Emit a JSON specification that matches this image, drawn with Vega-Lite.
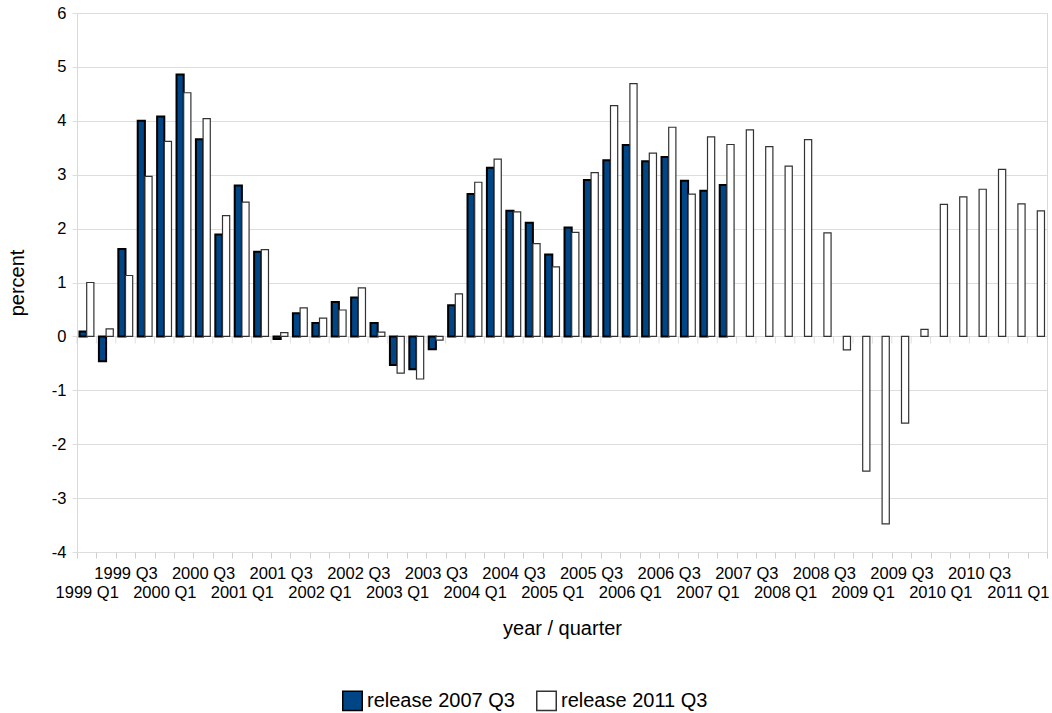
{
  "$schema": "https://vega.github.io/schema/vega-lite/v6.json",
  "autosize": "none",
  "width": 970,
  "height": 539,
  "padding": {"left": 77, "top": 13, "right": 5, "bottom": 161},
  "config": {
    "font": "Liberation Sans",
    "view": {"stroke": "#d9d9d9"},
    "axis": {"labelFont": "Liberation Sans", "titleFont": "Liberation Sans", "labelColor": "#000", "titleColor": "#000", "titleFontWeight": "normal", "gridColor": "#dddddd", "tickColor": "#d0d0d0", "domainColor": "#d9d9d9"}
  },
  "data": {"values": [
    {"q": "1999 Q1", "series": "release 2007 Q3", "value": 0.09},
    {"q": "1999 Q2", "series": "release 2007 Q3", "value": -0.46},
    {"q": "1999 Q3", "series": "release 2007 Q3", "value": 1.62},
    {"q": "1999 Q4", "series": "release 2007 Q3", "value": 4.00},
    {"q": "2000 Q1", "series": "release 2007 Q3", "value": 4.08},
    {"q": "2000 Q2", "series": "release 2007 Q3", "value": 4.86},
    {"q": "2000 Q3", "series": "release 2007 Q3", "value": 3.66},
    {"q": "2000 Q4", "series": "release 2007 Q3", "value": 1.89},
    {"q": "2001 Q1", "series": "release 2007 Q3", "value": 2.80},
    {"q": "2001 Q2", "series": "release 2007 Q3", "value": 1.57},
    {"q": "2001 Q3", "series": "release 2007 Q3", "value": -0.05},
    {"q": "2001 Q4", "series": "release 2007 Q3", "value": 0.43},
    {"q": "2002 Q1", "series": "release 2007 Q3", "value": 0.25},
    {"q": "2002 Q2", "series": "release 2007 Q3", "value": 0.64},
    {"q": "2002 Q3", "series": "release 2007 Q3", "value": 0.72},
    {"q": "2002 Q4", "series": "release 2007 Q3", "value": 0.25},
    {"q": "2003 Q1", "series": "release 2007 Q3", "value": -0.53},
    {"q": "2003 Q2", "series": "release 2007 Q3", "value": -0.61},
    {"q": "2003 Q3", "series": "release 2007 Q3", "value": -0.24},
    {"q": "2003 Q4", "series": "release 2007 Q3", "value": 0.58},
    {"q": "2004 Q1", "series": "release 2007 Q3", "value": 2.64},
    {"q": "2004 Q2", "series": "release 2007 Q3", "value": 3.13},
    {"q": "2004 Q3", "series": "release 2007 Q3", "value": 2.33},
    {"q": "2004 Q4", "series": "release 2007 Q3", "value": 2.11},
    {"q": "2005 Q1", "series": "release 2007 Q3", "value": 1.52},
    {"q": "2005 Q2", "series": "release 2007 Q3", "value": 2.02},
    {"q": "2005 Q3", "series": "release 2007 Q3", "value": 2.90},
    {"q": "2005 Q4", "series": "release 2007 Q3", "value": 3.27},
    {"q": "2006 Q1", "series": "release 2007 Q3", "value": 3.55},
    {"q": "2006 Q2", "series": "release 2007 Q3", "value": 3.25},
    {"q": "2006 Q3", "series": "release 2007 Q3", "value": 3.33},
    {"q": "2006 Q4", "series": "release 2007 Q3", "value": 2.89},
    {"q": "2007 Q1", "series": "release 2007 Q3", "value": 2.70},
    {"q": "2007 Q2", "series": "release 2007 Q3", "value": 2.81},
    {"q": "1999 Q1", "series": "release 2011 Q3", "value": 1.00},
    {"q": "1999 Q2", "series": "release 2011 Q3", "value": 0.14},
    {"q": "1999 Q3", "series": "release 2011 Q3", "value": 1.13},
    {"q": "1999 Q4", "series": "release 2011 Q3", "value": 2.97},
    {"q": "2000 Q1", "series": "release 2011 Q3", "value": 3.62},
    {"q": "2000 Q2", "series": "release 2011 Q3", "value": 4.52},
    {"q": "2000 Q3", "series": "release 2011 Q3", "value": 4.04},
    {"q": "2000 Q4", "series": "release 2011 Q3", "value": 2.24},
    {"q": "2001 Q1", "series": "release 2011 Q3", "value": 2.49},
    {"q": "2001 Q2", "series": "release 2011 Q3", "value": 1.61},
    {"q": "2001 Q3", "series": "release 2011 Q3", "value": 0.07},
    {"q": "2001 Q4", "series": "release 2011 Q3", "value": 0.53},
    {"q": "2002 Q1", "series": "release 2011 Q3", "value": 0.34},
    {"q": "2002 Q2", "series": "release 2011 Q3", "value": 0.49},
    {"q": "2002 Q3", "series": "release 2011 Q3", "value": 0.90},
    {"q": "2002 Q4", "series": "release 2011 Q3", "value": 0.08},
    {"q": "2003 Q1", "series": "release 2011 Q3", "value": -0.68},
    {"q": "2003 Q2", "series": "release 2011 Q3", "value": -0.79},
    {"q": "2003 Q3", "series": "release 2011 Q3", "value": -0.07},
    {"q": "2003 Q4", "series": "release 2011 Q3", "value": 0.79},
    {"q": "2004 Q1", "series": "release 2011 Q3", "value": 2.86},
    {"q": "2004 Q2", "series": "release 2011 Q3", "value": 3.29},
    {"q": "2004 Q3", "series": "release 2011 Q3", "value": 2.31},
    {"q": "2004 Q4", "series": "release 2011 Q3", "value": 1.72},
    {"q": "2005 Q1", "series": "release 2011 Q3", "value": 1.29},
    {"q": "2005 Q2", "series": "release 2011 Q3", "value": 1.93},
    {"q": "2005 Q3", "series": "release 2011 Q3", "value": 3.04},
    {"q": "2005 Q4", "series": "release 2011 Q3", "value": 4.28},
    {"q": "2006 Q1", "series": "release 2011 Q3", "value": 4.69},
    {"q": "2006 Q2", "series": "release 2011 Q3", "value": 3.40},
    {"q": "2006 Q3", "series": "release 2011 Q3", "value": 3.88},
    {"q": "2006 Q4", "series": "release 2011 Q3", "value": 2.64},
    {"q": "2007 Q1", "series": "release 2011 Q3", "value": 3.70},
    {"q": "2007 Q2", "series": "release 2011 Q3", "value": 3.56},
    {"q": "2007 Q3", "series": "release 2011 Q3", "value": 3.83},
    {"q": "2007 Q4", "series": "release 2011 Q3", "value": 3.52},
    {"q": "2008 Q1", "series": "release 2011 Q3", "value": 3.16},
    {"q": "2008 Q2", "series": "release 2011 Q3", "value": 3.65},
    {"q": "2008 Q3", "series": "release 2011 Q3", "value": 1.92},
    {"q": "2008 Q4", "series": "release 2011 Q3", "value": -0.25},
    {"q": "2009 Q1", "series": "release 2011 Q3", "value": -2.50},
    {"q": "2009 Q2", "series": "release 2011 Q3", "value": -3.48},
    {"q": "2009 Q3", "series": "release 2011 Q3", "value": -1.61},
    {"q": "2009 Q4", "series": "release 2011 Q3", "value": 0.13},
    {"q": "2010 Q1", "series": "release 2011 Q3", "value": 2.45},
    {"q": "2010 Q2", "series": "release 2011 Q3", "value": 2.59},
    {"q": "2010 Q3", "series": "release 2011 Q3", "value": 2.73},
    {"q": "2010 Q4", "series": "release 2011 Q3", "value": 3.10},
    {"q": "2011 Q1", "series": "release 2011 Q3", "value": 2.46},
    {"q": "2011 Q2", "series": "release 2011 Q3", "value": 2.33}
  ]},
  "layer": [
    {
      "mark": {"type": "bar"},
      "encoding": {
        "x": {"field": "q", "type": "nominal", "title": "year / quarter",
          "scale": {"paddingInner": 0, "paddingOuter": 0},
          "axis": {"orient": "bottom", "labelAngle": 0, "labelOverlap": false, "labelFontSize": 16.5, "tickSize": 6, "tickBand": "extent", "domain": false, "grid": false, "titleFontSize": 20, "titlePadding": 18,
            "labelPadding": {"expr": "indexof('' + datum.value, 'Q1') >= 0 ? 26 : 7"},
            "labelExpr": "(indexof('' + datum.value, 'Q1') >= 0 || indexof('' + datum.value, 'Q3') >= 0) ? ('' + datum.value) : ''"}},
        "xOffset": {"field": "series", "type": "nominal", "scale": {"domain": ["release 2007 Q3", "release 2011 Q3"], "paddingInner": 0, "paddingOuter": 0.35}},
        "y": {"field": "value", "type": "quantitative", "title": "percent", "stack": null,
          "scale": {"domain": [-4, 6], "nice": false, "zero": false},
          "axis": {"values": [-4, -3, -2, -1, 0, 1, 2, 3, 4, 5, 6], "labelExpr": "'' + datum.value", "labelFontSize": 16.5, "titleFontSize": 20, "tickSize": 5, "labelPadding": 6, "titlePadding": 24, "domain": false, "grid": true, "tickColor": "#dddddd"}},
        "fill": {"field": "series", "type": "nominal", "scale": {"domain": ["release 2007 Q3", "release 2011 Q3"], "range": ["#004586", "#ffffff"]},
          "legend": {"title": null, "orient": "none", "legendX": 265, "legendY": 677, "direction": "horizontal", "symbolType": "square", "symbolSize": 380, "symbolStrokeColor": "#000000", "symbolStrokeWidth": 1.5, "labelFontSize": 20, "labelColor": "#000000", "labelOffset": 4, "columnPadding": 18}},
        "stroke": {"field": "series", "type": "nominal", "scale": {"domain": ["release 2007 Q3", "release 2011 Q3"], "range": ["#000000", "#333333"]}, "legend": null},
        "strokeWidth": {"condition": {"test": "datum.series === 'release 2007 Q3'", "value": 2}, "value": 1.2}
      }
    },
    {
      "transform": [{"filter": "datum.series === 'release 2011 Q3'"}],
      "mark": {"type": "tick", "orient": "vertical", "color": "#d0d0d0", "thickness": 1, "size": 7, "yOffset": 3.5},
      "encoding": {
        "x": {"field": "q", "type": "nominal", "bandPosition": 0},
        "y": {"datum": 0, "type": "quantitative"}
      }
    }
  ]
}
